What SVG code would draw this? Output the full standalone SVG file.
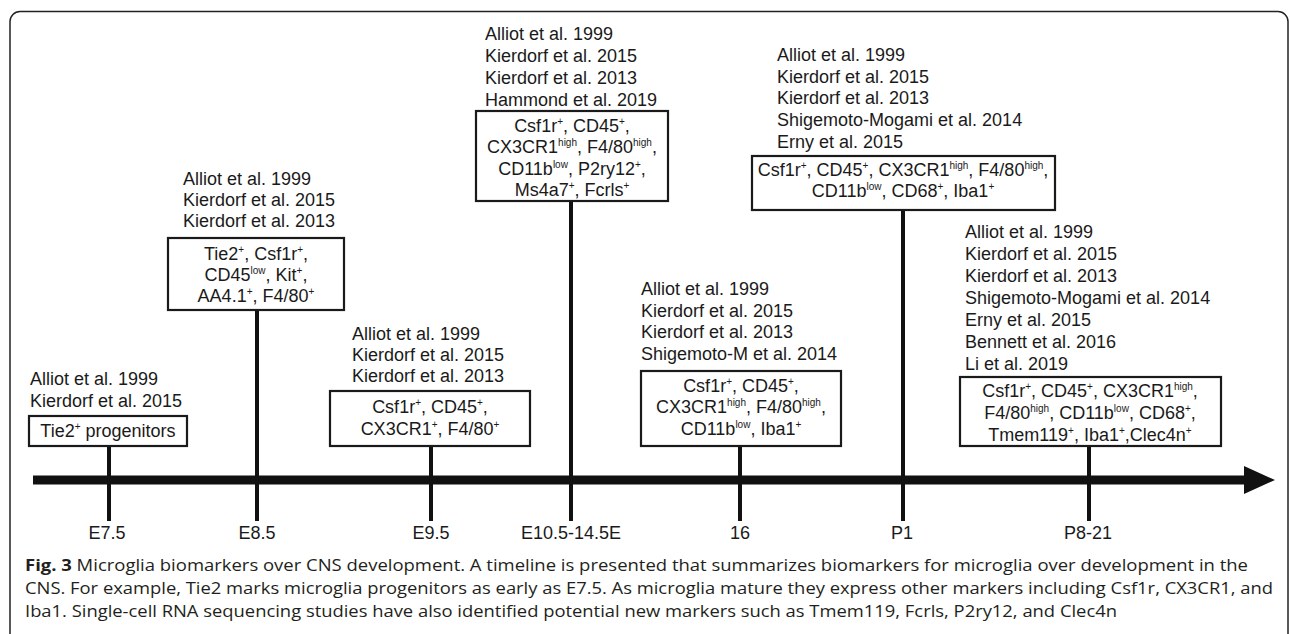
<svg xmlns="http://www.w3.org/2000/svg" width="1290" height="634" viewBox="0 0 1290 634">
<style>
.t{font-family:"Liberation Sans",Arial,sans-serif;font-size:18px;fill:#1a1a1a}
.c{text-anchor:middle}
.box{fill:#fff;stroke:#1a1a1a;stroke-width:2.2}
.tick{stroke:#111;stroke-width:4;fill:none}
.s{font-size:10px}
.cap{font-family:"Open Sans","Noto Sans",sans-serif;font-size:16px;fill:#231f20}
</style>
<rect x="10" y="11.5" width="1278" height="700" rx="10" fill="#fff" stroke="#222" stroke-width="1.5"/>

<g id="connectors">
<line x1="33" y1="480" x2="1250" y2="480" stroke="#111" stroke-width="9"/>
<polygon points="1244,466 1275,480 1244,494" fill="#111"/>
<line class="tick" x1="109" y1="446" x2="109" y2="521"/>
<line class="tick" x1="257" y1="310" x2="257" y2="521"/>
<line class="tick" x1="431" y1="446" x2="431" y2="521"/>
<line class="tick" x1="571" y1="201" x2="571" y2="521"/>
<line class="tick" x1="740" y1="446" x2="740" y2="521"/>
<line class="tick" x1="903" y1="210" x2="903" y2="521"/>
<line class="tick" x1="1089" y1="446" x2="1089" y2="521"/>
</g>

<g id="n-e75">
<text class="t" x="30" y="385">Alliot et al. 1999</text>
<text class="t" x="30" y="407">Kierdorf et al. 2015</text>
<rect class="box" x="29" y="416" width="158" height="30"/>
<text class="t c" x="108" y="437">Tie2<tspan class="s" dy="-7">+</tspan><tspan dy="7"> progenitors</tspan></text>
<text class="t c" x="107" y="539">E7.5</text>
</g>

<g id="n-e85">
<text class="t" x="183" y="185">Alliot et al. 1999</text>
<text class="t" x="183" y="206">Kierdorf et al. 2015</text>
<text class="t" x="183" y="227">Kierdorf et al. 2013</text>
<rect class="box" x="168" y="238" width="176" height="72"/>
<text class="t c" x="256" y="260">Tie2<tspan class="s" dy="-7">+</tspan><tspan dy="7">, Csf1r</tspan><tspan class="s" dy="-7">+</tspan><tspan dy="7">,</tspan></text>
<text class="t c" x="256" y="281">CD45<tspan class="s" dy="-7">low</tspan><tspan dy="7">, Kit</tspan><tspan class="s" dy="-7">+</tspan><tspan dy="7">,</tspan></text>
<text class="t c" x="256" y="302">AA4.1<tspan class="s" dy="-7">+</tspan><tspan dy="7">, F4/80</tspan><tspan class="s" dy="-7">+</tspan></text>
<text class="t c" x="257" y="539">E8.5</text>
</g>

<g id="n-e95">
<text class="t" x="352" y="340">Alliot et al. 1999</text>
<text class="t" x="352" y="361">Kierdorf et al. 2015</text>
<text class="t" x="352" y="382">Kierdorf et al. 2013</text>
<rect class="box" x="330" y="391" width="200" height="55"/>
<text class="t c" x="430" y="413">Csf1r<tspan class="s" dy="-7">+</tspan><tspan dy="7">, CD45</tspan><tspan class="s" dy="-7">+</tspan><tspan dy="7">,</tspan></text>
<text class="t c" x="430" y="435">CX3CR1<tspan class="s" dy="-7">+</tspan><tspan dy="7">, F4/80</tspan><tspan class="s" dy="-7">+</tspan></text>
<text class="t c" x="431" y="539">E9.5</text>
</g>

<g id="n-e105">
<text class="t" x="485" y="40">Alliot et al. 1999</text>
<text class="t" x="485" y="62">Kierdorf et al. 2015</text>
<text class="t" x="485" y="84">Kierdorf et al. 2013</text>
<text class="t" x="485" y="106">Hammond et al. 2019</text>
<rect class="box" x="476" y="111" width="192" height="90"/>
<text class="t c" x="572" y="132">Csf1r<tspan class="s" dy="-7">+</tspan><tspan dy="7">, CD45</tspan><tspan class="s" dy="-7">+</tspan><tspan dy="7">,</tspan></text>
<text class="t c" x="572" y="153">CX3CR1<tspan class="s" dy="-7">high</tspan><tspan dy="7">, F4/80</tspan><tspan class="s" dy="-7">high</tspan><tspan dy="7">,</tspan></text>
<text class="t c" x="572" y="175">CD11b<tspan class="s" dy="-7">low</tspan><tspan dy="7">, P2ry12</tspan><tspan class="s" dy="-7">+</tspan><tspan dy="7">,</tspan></text>
<text class="t c" x="572" y="196">Ms4a7<tspan class="s" dy="-7">+</tspan><tspan dy="7">, Fcrls</tspan><tspan class="s" dy="-7">+</tspan></text>
<text class="t c" x="571" y="539">E10.5-14.5E</text>
</g>

<g id="n-16">
<text class="t" x="641" y="295">Alliot et al. 1999</text>
<text class="t" x="641" y="317">Kierdorf et al. 2015</text>
<text class="t" x="641" y="338">Kierdorf et al. 2013</text>
<text class="t" x="641" y="360">Shigemoto-M et al. 2014</text>
<rect class="box" x="641" y="371" width="200" height="75"/>
<text class="t c" x="741" y="392">Csf1r<tspan class="s" dy="-7">+</tspan><tspan dy="7">, CD45</tspan><tspan class="s" dy="-7">+</tspan><tspan dy="7">,</tspan></text>
<text class="t c" x="741" y="413">CX3CR1<tspan class="s" dy="-7">high</tspan><tspan dy="7">, F4/80</tspan><tspan class="s" dy="-7">high</tspan><tspan dy="7">,</tspan></text>
<text class="t c" x="741" y="435">CD11b<tspan class="s" dy="-7">low</tspan><tspan dy="7">, Iba1</tspan><tspan class="s" dy="-7">+</tspan></text>
<text class="t c" x="740" y="539">16</text>
</g>

<g id="n-p1">
<text class="t" x="777" y="61">Alliot et al. 1999</text>
<text class="t" x="777" y="83">Kierdorf et al. 2015</text>
<text class="t" x="777" y="104">Kierdorf et al. 2013</text>
<text class="t" x="777" y="126">Shigemoto-Mogami et al. 2014</text>
<text class="t" x="777" y="148">Erny et al. 2015</text>
<rect class="box" x="752" y="156" width="303" height="54"/>
<text class="t c" x="903" y="176">Csf1r<tspan class="s" dy="-7">+</tspan><tspan dy="7">, CD45</tspan><tspan class="s" dy="-7">+</tspan><tspan dy="7">, CX3CR1</tspan><tspan class="s" dy="-7">high</tspan><tspan dy="7">, F4/80</tspan><tspan class="s" dy="-7">high</tspan><tspan dy="7">,</tspan></text>
<text class="t c" x="903" y="197">CD11b<tspan class="s" dy="-7">low</tspan><tspan dy="7">, CD68</tspan><tspan class="s" dy="-7">+</tspan><tspan dy="7">, Iba1</tspan><tspan class="s" dy="-7">+</tspan></text>
<text class="t c" x="902" y="539">P1</text>
</g>

<g id="n-p821">
<text class="t" x="965" y="238">Alliot et al. 1999</text>
<text class="t" x="965" y="260">Kierdorf et al. 2015</text>
<text class="t" x="965" y="282">Kierdorf et al. 2013</text>
<text class="t" x="965" y="304">Shigemoto-Mogami et al. 2014</text>
<text class="t" x="965" y="326">Erny et al. 2015</text>
<text class="t" x="965" y="348">Bennett et al. 2016</text>
<text class="t" x="965" y="370">Li et al. 2019</text>
<rect class="box" x="960" y="377" width="261" height="69"/>
<text class="t c" x="1090" y="397">Csf1r<tspan class="s" dy="-7">+</tspan><tspan dy="7">, CD45</tspan><tspan class="s" dy="-7">+</tspan><tspan dy="7">, CX3CR1</tspan><tspan class="s" dy="-7">high</tspan><tspan dy="7">,</tspan></text>
<text class="t c" x="1090" y="419">F4/80<tspan class="s" dy="-7">high</tspan><tspan dy="7">, CD11b</tspan><tspan class="s" dy="-7">low</tspan><tspan dy="7">, CD68</tspan><tspan class="s" dy="-7">+</tspan><tspan dy="7">,</tspan></text>
<text class="t c" x="1090" y="441">Tmem119<tspan class="s" dy="-7">+</tspan><tspan dy="7">, Iba1</tspan><tspan class="s" dy="-7">+</tspan><tspan dy="7">,Clec4n</tspan><tspan class="s" dy="-7">+</tspan></text>
<text class="t c" x="1088" y="539">P8-21</text>
</g>

<g id="caption">
<text class="cap" x="25" y="571" textLength="1223" lengthAdjust="spacingAndGlyphs"><tspan font-weight="bold">Fig. 3</tspan> Microglia biomarkers over CNS development. A timeline is presented that summarizes biomarkers for microglia over development in the</text>
<text class="cap" x="25" y="594" textLength="1248" lengthAdjust="spacingAndGlyphs">CNS. For example, Tie2 marks microglia progenitors as early as E7.5. As microglia mature they express other markers including Csf1r, CX3CR1, and</text>
<text class="cap" x="25" y="617" textLength="1092" lengthAdjust="spacingAndGlyphs">Iba1. Single-cell RNA sequencing studies have also identified potential new markers such as Tmem119, Fcrls, P2ry12, and Clec4n</text>
</g>
</svg>
